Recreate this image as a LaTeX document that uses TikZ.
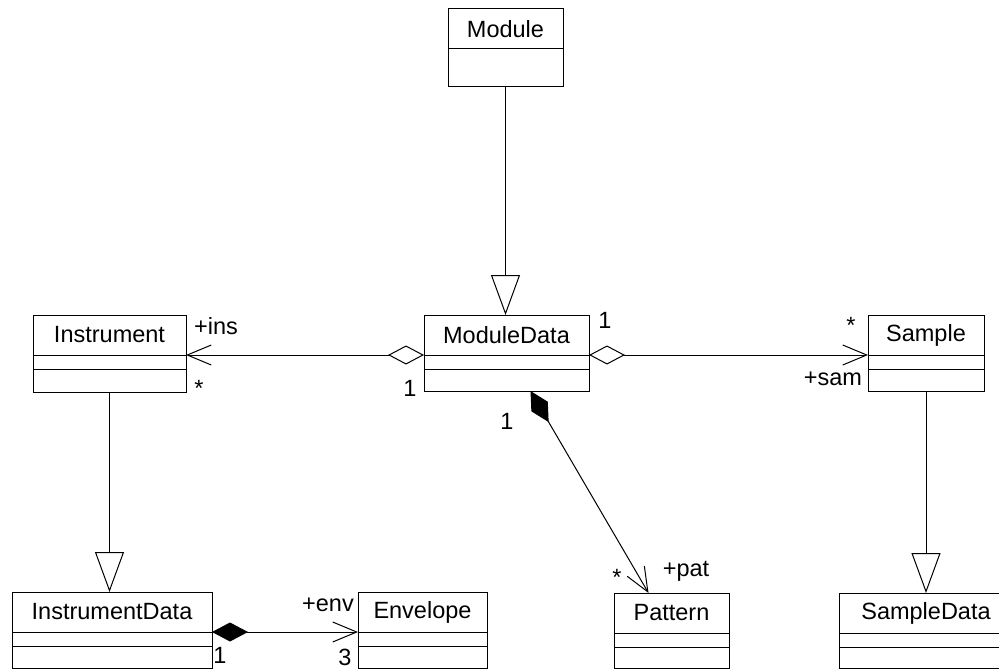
\documentclass[tikz,border=0pt]{standalone}
\usepackage{fontspec}
\setmainfont{Liberation Sans}
\usepackage{tikz}
\usetikzlibrary{arrows.meta}
\usetikzlibrary{calc}
% #1 node name, #2 left, #3 top, #4 right, #5 bottom, #6 class name
\newcommand{\umlclass}[6]{%
  \node[draw,inner sep=0pt,outer sep=0pt,minimum width={(#4-#2)*1pt},minimum height={(#5-#3)*1pt}] (#1) at ({(#2+#4)/2},{(#3+#5)/2}) {};
  \node (#1-name) at ({(#2+#4)/2},{#3+20}) {#6};
  \coordinate (#1-w) at ({#2},{#3+40});
  \coordinate (#1-e) at ({#4},{#3+40});
  \draw (#1-w) -- (#1-e);
}

\begin{document}
\begin{tikzpicture}[x=1pt,y=-1pt,line width=1pt,font=\fontsize{23.5}{28}\selectfont,
    gen/.style={-{Triangle[length=40pt,width=29pt,fill=white]}},
    aggr/.style={{Diamond[length=36pt,width=19pt,fill=white]}-{Straight Barb[length=24pt,width=20pt]}},
    comp/.style={{Diamond[length=36pt,width=19pt]}-{Straight Barb[length=24pt,width=20pt]}}]
  \useasboundingbox (0,0) rectangle (999,669);

  \umlclass{module}{448}{9}{563}{87}{Module}
  \umlclass{instr}{33}{315}{186}{392}{Instrument}
  \umlclass{mdata}{424}{315}{589}{391}{ModuleData}
  \umlclass{sample}{868}{315}{984}{391}{Sample}
  \umlclass{instrdata}{12}{592}{212}{668}{InstrumentData}
  \umlclass{envelope}{358}{592}{487}{668}{Envelope}
  \umlclass{pattern}{614}{593}{729}{668}{Pattern}
  \umlclass{sampledata}{839}{593}{1013}{668}{SampleData}
  \foreach \c in {instr,mdata,sample,instrdata,envelope,pattern,sampledata}
    \draw ([yshift=-14pt]\c-w) -- ([yshift=-14pt]\c-e);

  % inheritance
  \draw[gen] (module.south) -- (module.south |- mdata.north);
  \draw[gen] (instr.south) -- (instr.south |- instrdata.north);
  \draw[gen] (sample.south) -- (sample.south |- sampledata.north);

  % associations
  \draw[aggr] (mdata-w) -- (instr-e);
  \draw[aggr] (mdata-e) -- (sample-w);
  \draw[comp] ([xshift=24pt]mdata.south) -- ([xshift=-23pt]pattern.north);
  \draw[comp] (instrdata-e) -- (envelope-w);

  % roles and multiplicities
  \node (m-ins) at (216,326) {+ins};
  \node (m-insn) at (199,388) {*};
  \node (m-mdl) at (410,388) {1};
  \node (m-mdr) at (605,320) {1};
  \node (m-samn) at (851,325) {*};
  \node (m-sam) at (833,379) {+sam};
  \node (m-mdp) at (507,421) {1};
  \node (m-patn) at (617,577) {*};
  \node (m-pat) at (686,571) {+pat};
  \node (m-env) at (328,605) {+env};
  \node (m-idn) at (220,655) {1};
  \node (m-envn) at (345,657) {3};
\end{tikzpicture}
\end{document}
